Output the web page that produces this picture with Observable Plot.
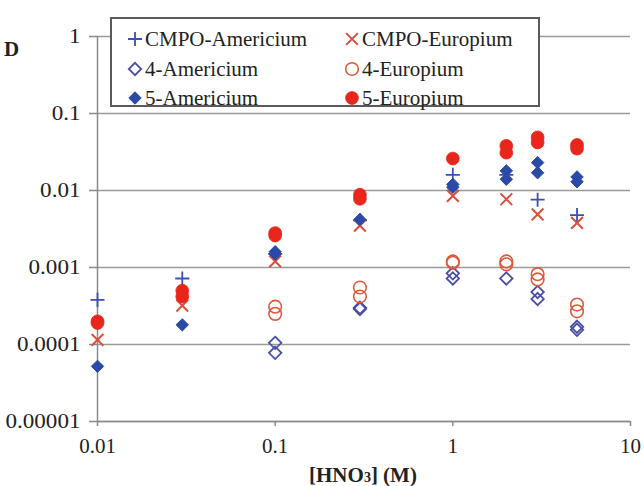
<!DOCTYPE html>
<html><head><meta charset="utf-8">
<script src="https://cdn.jsdelivr.net/npm/d3@7"></script>
<script src="https://cdn.jsdelivr.net/npm/@observablehq/plot@0.6"></script>
<style>
html,body{margin:0;padding:0;background:#fff;}
#wrap{position:relative;width:644px;height:486px;overflow:hidden;font-family:"Liberation Serif","Times New Roman",serif;color:#222;}
#legend{position:absolute;left:110px;top:17px;width:430px;height:90px;box-sizing:border-box;border:2px solid #5a5a5a;background:#fff;}
.item{position:absolute;height:26px;display:flex;align-items:center;font-size:21px;white-space:nowrap;}
.item svg{display:block;margin-right:1px;}
#ylab{position:absolute;left:4px;top:37px;font-weight:bold;font-size:21px;}
#xlab{position:absolute;left:263px;width:200px;top:462px;text-align:center;font-weight:bold;font-size:21px;line-height:26px;}
#xlab span{font-size:14px;}
</style></head>
<body><div id="wrap"><div id="chart"></div><div id="legend"></div><div id="ylab">D</div><div id="xlab">[HNO<span>3</span>] (M)</div></div>
<script>
// ---- data ----
const xTicks = [0.01, 0.1, 1, 10];
const xTickLabels = ["0.01", "0.1", "1", "10"];
const yTicks = [1, 0.1, 0.01, 0.001, 0.0001, 0.00001];
const yTickLabels = ["1", "0.1", "0.01", "0.001", "0.0001", "0.00001"];

const seriesNames = ["CMPO-Americium", "CMPO-Europium", "4-Americium", "4-Europium", "5-Americium", "5-Europium"];

const cmpoAmX = [0.01, 0.03, 0.1, 0.3, 1, 2, 3, 5];
const cmpoAmD = [0.00038, 0.00072, 0.0015, 0.0041, 0.016, 0.016, 0.0076, 0.0048];

const cmpoEuX = [0.01, 0.03, 0.1, 0.3, 1, 2, 3, 5];
const cmpoEuD = [0.000115, 0.00032, 0.0012, 0.0035, 0.0085, 0.0077, 0.0049, 0.0038];

const am4X = [0.1, 0.1, 0.3, 0.3, 1, 1, 2, 3, 3, 5, 5];
const am4D = [0.000105, 0.000078, 0.00030, 0.00029, 0.00084, 0.00072, 0.00072, 0.00048, 0.00039, 0.00017, 0.000155];

const eu4X = [0.1, 0.1, 0.3, 0.3, 1, 1, 2, 2, 3, 3, 5, 5];
const eu4D = [0.00031, 0.00025, 0.00055, 0.00042, 0.0012, 0.00115, 0.0012, 0.0011, 0.00082, 0.00070, 0.00033, 0.00027];

const am5X = [0.01, 0.03, 0.1, 0.1, 0.3, 1, 1, 2, 2, 3, 3, 5, 5];
const am5D = [0.000052, 0.00018, 0.0016, 0.0015, 0.0042, 0.012, 0.011, 0.018, 0.014, 0.023, 0.017, 0.015, 0.013];

const eu5X = [0.01, 0.01, 0.03, 0.03, 0.1, 0.1, 0.3, 0.3, 1, 2, 2, 3, 3, 5, 5];
const eu5D = [0.0002, 0.00019, 0.0005, 0.00042, 0.0028, 0.0026, 0.0088, 0.0078, 0.026, 0.038, 0.031, 0.049, 0.042, 0.039, 0.035];

// ---- styles ----
const styles = [
  {x: cmpoAmX, y: cmpoAmD, symbol: "plus", r: 4.6, fill: "none", stroke: "#3c4fb4", sw: 1.8},
  {x: cmpoEuX, y: cmpoEuD, symbol: "times", r: 5.4, fill: "none", stroke: "#d8503c", sw: 2},
  {x: am4X, y: am4D, symbol: "diamond2", r: 5.6, fill: "none", stroke: "#4a4fa5", sw: 1.8},
  {x: eu4X, y: eu4D, symbol: "circle", r: 6.3, fill: "none", stroke: "#dd5a3a", sw: 1.6},
  {x: am5X, y: am5D, symbol: "diamond2", r: 5.6, fill: "#2a4aa8", stroke: "#2a4aa8", sw: 1},
  {x: eu5X, y: eu5D, symbol: "circle", r: 6.4, fill: "#e8261c", stroke: "#e8261c", sw: 0.8}
];

const dotMarks = styles.map(s => Plot.dot(s.x.map((v, i) => ({x: v, y: s.y[i]})), {
  x: "x", y: "y", symbol: () => s.symbol, r: s.r, fill: s.fill, stroke: s.stroke, strokeWidth: s.sw
}));

const chart = Plot.plot({
  width: 644, height: 486,
  marginLeft: 97, marginRight: 14, marginTop: 36, marginBottom: 65,
  style: {fontFamily: "'Liberation Serif','Times New Roman',serif", fontSize: "21px", color: "#222", background: "white"},
  x: {type: "log", domain: [0.01, 10]},
  y: {type: "log", domain: [0.00001, 1]},
  marks: [
    Plot.gridY(yTicks, {stroke: "#9a9a9a", strokeOpacity: 1, strokeWidth: 1.5}),
    Plot.ruleX([0.01], {stroke: "#8a8a8a", strokeWidth: 1.5}),
    Plot.ruleY([0.00001], {stroke: "#8a8a8a", strokeWidth: 1.5}),
    Plot.axisY({ticks: yTicks, tickFormat: d => yTickLabels[yTicks.indexOf(d)], tickSize: 8, tickPadding: 9, label: null, stroke: "#8a8a8a", strokeWidth: 1.5, fill: "#222"}),
    Plot.axisX({ticks: xTicks, tickFormat: d => xTickLabels[xTicks.indexOf(d)], tickSize: 5, tickPadding: 12, label: null, stroke: "#8a8a8a", strokeWidth: 1.5, fill: "#222"}),
    ...dotMarks
  ]
});
document.getElementById("chart").appendChild(chart);
// slightly wider y tick labels, as in the reference
chart.querySelectorAll('g[aria-label="y-axis tick label"] text').forEach(t => {
  const tr = t.getAttribute("transform") || "";
  t.setAttribute("transform", tr + " scale(1.1,1)");
});

// ---- legend ----
const legend = document.getElementById("legend");
const symMap = {plus: d3.symbolPlus, times: d3.symbolTimes, diamond2: d3.symbolDiamond2, circle: d3.symbolCircle};
const colX = [14, 231];
const rowY = [7, 37, 66];
seriesNames.forEach((name, i) => {
  const s = styles[i];
  const div = document.createElement("div");
  div.className = "item";
  div.style.left = colX[i % 2] + "px";
  div.style.top = rowY[Math.floor(i / 2)] + "px";
  const size = Math.PI * s.r * s.r;
  const path = d3.symbol(symMap[s.symbol], size)();
  div.innerHTML = `<svg width="18" height="18" viewBox="-9 -9 18 18"><path d="${path}" fill="${s.fill}" stroke="${s.stroke}" stroke-width="${s.sw}"/></svg><span>${name}</span>`;
  legend.appendChild(div);
});
</script>
</body></html>
